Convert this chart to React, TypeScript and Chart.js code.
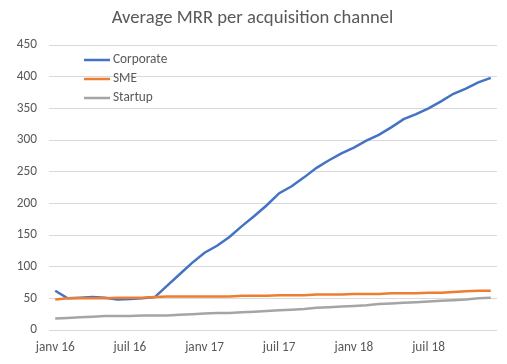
import React, { useEffect, useRef } from "react";
import { Chart, registerables } from "chart.js";

Chart.register(...registerables);

const months = [
  "janv 16", "févr 16", "mars 16", "avr 16", "mai 16", "juin 16",
  "juil 16", "août 16", "sept 16", "oct 16", "nov 16", "déc 16",
  "janv 17", "févr 17", "mars 17", "avr 17", "mai 17", "juin 17",
  "juil 17", "août 17", "sept 17", "oct 17", "nov 17", "déc 17",
  "janv 18", "févr 18", "mars 18", "avr 18", "mai 18", "juin 18",
  "juil 18", "août 18", "sept 18", "oct 18", "nov 18", "déc 18",
];

const corporate = [
  62, 50, 51, 52, 51, 48, 49, 50, 52, 70, 88, 106,
  122, 133, 147, 164, 180, 197, 216, 227, 241, 256, 268, 279,
  288, 299, 308, 320, 333, 341, 350, 361, 373, 381, 391, 398,
];

const sme = [
  48, 50, 50, 50, 50, 51, 51, 51, 52, 53, 53, 53,
  53, 53, 53, 54, 54, 54, 55, 55, 55, 56, 56, 56,
  57, 57, 57, 58, 58, 58, 59, 59, 60, 61, 62, 62,
];

const startup = [
  18, 19, 20, 21, 22, 22, 22, 23, 23, 23, 24, 25,
  26, 27, 27, 28, 29, 30, 31, 32, 33, 35, 36, 37,
  38, 39, 41, 42, 43, 44, 45, 46, 47, 48, 50, 51,
];

const seriesNames = ["Corporate", "SME", "Startup"];
const seriesColors = ["#4472C4", "#ED7D31", "#A5A5A5"];

const FONT = 'Calibri, Carlito, "Liberation Sans", Arial, sans-serif';

const legendPlugin = {
  id: "insideLegend",
  afterDraw(chart: any) {
    const { ctx, chartArea } = chart;
    ctx.save();
    ctx.font = `13.3px ${FONT}`;
    ctx.textBaseline = "middle";
    ctx.fillStyle = "#595959";
    seriesNames.forEach((name, i) => {
      const y = chartArea.top + 15 + i * 19;
      const x0 = chartArea.left + 35;
      ctx.strokeStyle = seriesColors[i];
      ctx.lineWidth = 2.5;
      ctx.beginPath();
      ctx.moveTo(x0, y);
      ctx.lineTo(x0 + 26, y);
      ctx.stroke();
      ctx.fillText(name, x0 + 29, y);
    });
    ctx.restore();
  },
};

const titleShiftPlugin = {
  id: "titleShift",
  afterLayout(chart: any) {
    const t = chart.titleBlock;
    if (t) {
      t.left = 8;
    }
  },
};

export default function App() {
  const canvasRef = useRef<HTMLCanvasElement | null>(null);

  useEffect(() => {
    if (!canvasRef.current) return;
    const data = [corporate, sme, startup];
    const chart = new Chart(canvasRef.current, {
      type: "line",
      data: {
        labels: months,
        datasets: data.map((d, i) => ({
          label: seriesNames[i],
          data: d,
          borderColor: seriesColors[i],
          backgroundColor: seriesColors[i],
          borderWidth: 2.5,
          pointRadius: 0,
          tension: 0,
          fill: false,
          order: 3 - i,
        })),
      },
      options: {
        animation: false,
        responsive: false,
        maintainAspectRatio: false,
        layout: { padding: { left: 0, right: 10, top: 0, bottom: 0 } },
        plugins: {
          legend: { display: false },
          tooltip: { enabled: false },
          title: {
            display: true,
            text: "Average MRR per acquisition channel",
            color: "#595959",
            font: { family: FONT, size: 18.67, weight: "normal" },
            padding: { top: 7, bottom: 15.6 },
          },
        },
        scales: {
          x: {
            type: "category",
            offset: true,
            grid: { display: false, drawTicks: false },
            border: { display: false },
            ticks: {
              autoSkip: false,
              maxRotation: 0,
              minRotation: 0,
              padding: 10,
              color: "#595959",
              font: { family: FONT, size: 13.3 },
              callback: (_v: any, idx: number) => (idx % 6 === 0 ? months[idx] : ""),
            },
            afterFit: (scale: any) => {
              scale.height = 34;
            },
          },
          y: {
            min: 0,
            max: 450,
            grid: { color: "#D9D9D9", lineWidth: 1, drawTicks: false },
            border: { display: false },
            ticks: {
              stepSize: 50,
              padding: 12,
              color: "#595959",
              font: { family: FONT, size: 13.3 },
            },
            afterFit: (scale: any) => {
              scale.width = 49;
            },
          },
        },
      },
      plugins: [legendPlugin, titleShiftPlugin],
    });
    return () => chart.destroy();
  }, []);

  return (
    <div style={{ position: "fixed", left: 0, top: 0, width: 507, height: 364, background: "#fff" }}>
      <canvas ref={canvasRef} width={507} height={364} style={{ width: 507, height: 364 }} />
    </div>
  );
}
